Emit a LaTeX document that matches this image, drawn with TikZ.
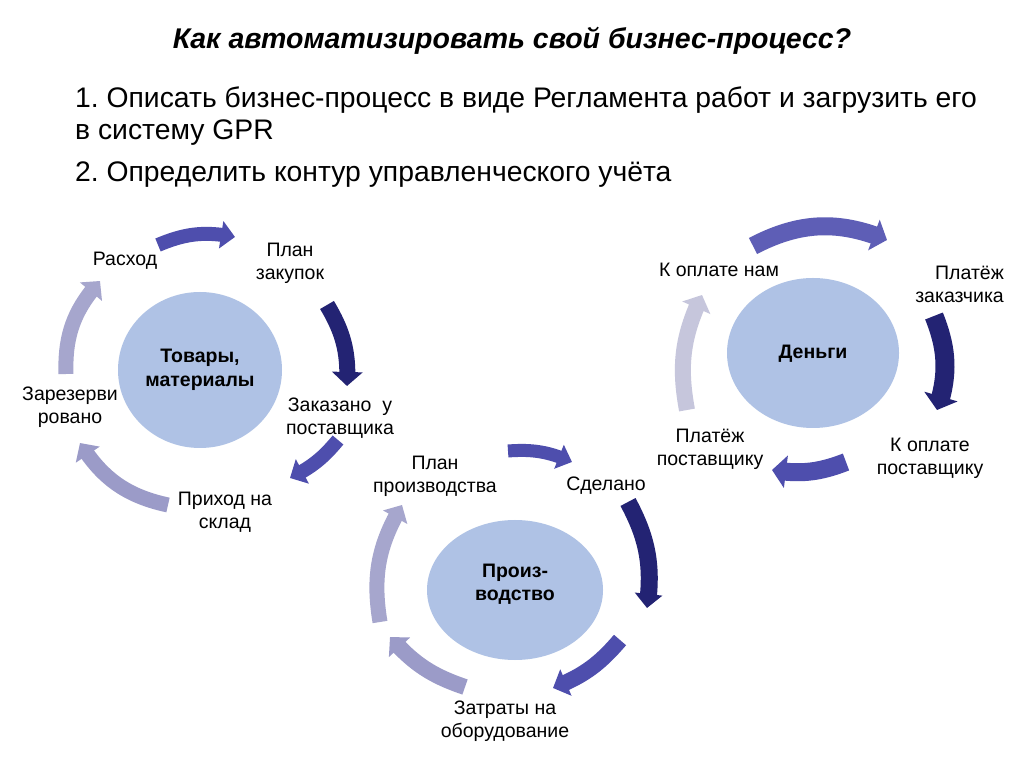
\documentclass[tikz,border=0pt]{standalone}
\usepackage{fontspec}
\setmainfont{Liberation Sans}
\usetikzlibrary{shapes.geometric,arrows.meta,bending}
\definecolor{cdark}{HTML}{232373}
\definecolor{cmid}{HTML}{4E4EAD}
\definecolor{cmidl}{HTML}{5E5EB6}
\definecolor{clight}{HTML}{9B9BC8}
\definecolor{clightb}{HTML}{A6A6CD}
\definecolor{clightest}{HTML}{C6C6DC}
\definecolor{chub}{HTML}{AFC2E5}
\tikzset{
  lbl/.style={font=\fontsize{19.5}{23}\selectfont, align=center, inner sep=0pt},
  hub/.style={ellipse, fill=chub, inner sep=0pt},
  hubtext/.style={font=\fontsize{19.5}{23.5}\selectfont\bfseries, align=center, inner sep=0pt},
  carr/.style n args={3}{draw=#1, line width=#2pt, -{Triangle[width=#3pt,length=14pt,flex]}},
  titlefont/.style={font=\fontsize{28.5}{33}\selectfont\bfseries\itshape, inner sep=0pt},
  bodyfont/.style={font=\fontsize{28.3}{32}\selectfont\frenchspacing, inner sep=0pt}
}
\begin{document}
\begin{tikzpicture}[x=1pt,y=1pt]
\useasboundingbox (0,0) rectangle (1024,768);
\fill[white] (0,0) rectangle (1024,768);
% title and body
\node[titlefont] (title) at (512,727) {Как автоматизировать свой бизнес-процесс?};
\node[bodyfont, anchor=base west] (l1) at (75,660) {1. Описать бизнес-процесс в виде Регламента работ и загрузить его};
\node[bodyfont, anchor=base west] (l2) at (75,628) {в систему GPR};
\node[bodyfont, anchor=base west] (l3) at (75,586) {2. Определить контур управленческого учёта};
% ---------- cycle 1
\node[hub, minimum width=164pt, minimum height=156pt] (hub1) at (200,398) {};
\node[hubtext] (hub1t) at (200,398) {Товары,\\материалы};
\node[lbl] (r1) at (125,507) {Расход};
\node[lbl] (p1) at (290,505) {План\\закупок};
\node[lbl] (z1) at (340,350) {Заказано\ \ у\\поставщика};
\node[lbl] (s1) at (225,256) {Приход на\\склад};
\node[lbl] (v1) at (70,361) {Зарезерви\\ровано};
\coordinate (a1t) at (158,523); \coordinate (a1h) at (235,531);
\coordinate (a2t) at (327,463); \coordinate (a2h) at (347,382);
\coordinate (a3t) at (338,328); \coordinate (a3h) at (290,290);
\coordinate (a4t) at (168,263); \coordinate (a4h) at (80,325);
\coordinate (a5t) at (66,394);  \coordinate (a5h) at (100,487);
\draw[carr={cmid}{14}{27}] (a1t) to[bend left=17] (a1h);
\draw[carr={cdark}{16}{30}] (a2t) to[bend left=17] (a2h);
\draw[carr={cmid}{14}{27}] (a3t) to[bend left=12] (a3h);
\draw[carr={clight}{15}{28}] (a4t) to[bend left=23] (a4h);
\draw[carr={clightb}{15}{28}] (a5t) to[bend left=22] (a5h);
% ---------- cycle 2
\node[hub, minimum width=176pt, minimum height=140pt] (hub2) at (515,178) {};
\node[hubtext] (hub2t) at (515,184) {Произ-\\водство};
\node[lbl] (p2) at (435,292) {План\\производства};
\node[lbl] (d2) at (606,282) {Сделано};
\node[lbl] (e2) at (505,47) {Затраты на\\оборудование};
\coordinate (b1t) at (508,317); \coordinate (b1h) at (572,306);
\coordinate (b2t) at (628,266); \coordinate (b2h) at (647,160);
\coordinate (b3t) at (620,128); \coordinate (b3h) at (553,80);
\coordinate (b4t) at (465,81);  \coordinate (b4h) at (390,131);
\coordinate (b5t) at (380,146); \coordinate (b5h) at (402,263);
\draw[carr={cmid}{13}{25}] (b1t) to[bend left=14] (b1h);
\draw[carr={cdark}{17}{27}] (b2t) to[bend left=18] (b2h);
\draw[carr={cmid}{16}{28}] (b3t) to[bend left=14] (b3h);
\draw[carr={clight}{16}{28}] (b4t) to[bend left=15] (b4h);
\draw[carr={clightb}{15}{27}] (b5t) to[bend left=20] (b5h);
% ---------- cycle 3
\node[hub, minimum width=172pt, minimum height=150pt] (hub3) at (813,415) {};
\node[hubtext] (hub3t) at (813,414) {Деньги};
\node[lbl] (k3) at (719,498) {К оплате нам};
\node[lbl, align=right, anchor=east] (z3) at (1004,484) {Платёж\\заказчика};
\node[lbl] (o3) at (930,310) {К оплате\\поставщику};
\node[lbl] (q3) at (710,319) {Платёж\\поставщику};
\coordinate (c1t) at (753,522); \coordinate (c1h) at (887,528);
\coordinate (c2t) at (934,452); \coordinate (c2h) at (937,358);
\coordinate (c3t) at (846,306); \coordinate (c3h) at (772,298);
\coordinate (c4t) at (687,358); \coordinate (c4h) at (702,473);
\draw[carr={cmidl}{18}{32}] (c1t) to[bend left=25] (c1h);
\draw[carr={cdark}{19}{34}] (c2t) to[bend left=20] (c2h);
\draw[carr={cmid}{18}{32}] (c3t) to[bend left=15] (c3h);
\draw[carr={clightest}{16}{30}] (c4t) to[bend left=18] (c4h);
\end{tikzpicture}
\end{document}
